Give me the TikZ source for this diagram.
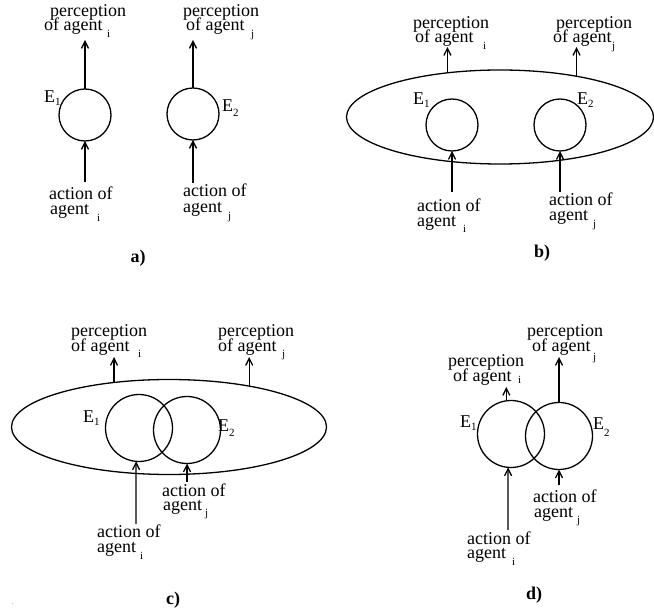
\documentclass[tikz,border=0pt]{standalone}
\usepackage{fontspec}
\setmainfont{Liberation Serif}
\usetikzlibrary{arrows.meta,shapes.geometric}
\begin{document}
\begin{tikzpicture}[x=1pt,y=-1pt,
  lbl/.style={anchor=base west,inner sep=0pt,font=\fontsize{18}{18}\selectfont},
  sub/.style={anchor=base west,inner sep=0pt,font=\fontsize{11}{11}\selectfont},
  tag/.style={anchor=base,inner sep=0pt,font=\fontsize{18}{18}\selectfont\bfseries},
  env/.style={circle,draw,line width=1.3pt,inner sep=0pt,outer sep=0pt,minimum size=#1},
  world/.style={ellipse,draw,line width=1.3pt,inner sep=0pt,outer sep=0pt},
  flow/.style={-{Straight Barb[length=7pt,width=7pt]},line width=1.3pt}]
\useasboundingbox (0,0) rectangle (654,609);

% ---------- a) two separate environments ----------
\node[env=52pt] (a1) at (85,115) {};
\node[env=52pt] (a2) at (193,114) {};
\coordinate (a1top) at (85,40);
\coordinate (a1bot) at (85,182);
\coordinate (a2top) at (193,40);
\coordinate (a2bot) at (193,183);
\draw[flow] (a1.north) -- (a1top);
\draw[flow] (a1bot) -- (a1.south);
\draw[flow] (a2.north) -- (a2top);
\draw[flow] (a2bot) -- (a2.south);
\node[lbl] (aE1) at (44,103) {E\raisebox{-3pt}{\fontsize{11}{11}\selectfont 1}};
\node[lbl] (aE2) at (222,112) {E\raisebox{-5pt}{\fontsize{11}{11}\selectfont 2}};
\node[lbl] (apI1) at (50,17) {perception};
\node[lbl] (apI2) at (44,31) {of agent};
\node[sub] (apIs) at (107,38) {i};
\node[lbl] (apJ1) at (183,17) {perception};
\node[lbl] (apJ2) at (186,31) {of agent};
\node[sub] (apJs) at (251,38) {j};
\node[lbl] (aaI1) at (49,200) {action of};
\node[lbl] (aaI2) at (50,215) {agent};
\node[sub] (aaIs) at (97,222) {i};
\node[lbl] (aaJ1) at (183,197) {action of};
\node[lbl] (aaJ2) at (183,213) {agent};
\node[sub] (aaJs) at (228,220) {j};
\node[tag] (ta) at (138,263) {a)};

% ---------- b) both environments inside one world ----------
\node[world,minimum width=307pt,minimum height=94pt] (bw) at (500,117) {};
\node[env=52pt] (b1) at (452,125) {};
\node[env=52pt] (b2) at (560,125) {};
\coordinate (bpItop) at (447,47);
\coordinate (bpJtop) at (577,47);
\coordinate (b1bot) at (452,192);
\coordinate (b2bot) at (560,192);
\draw[flow] (bw.140) -- (bw.140 |- bpItop);
\draw[flow] (bw.28) -- (bw.28 |- bpJtop);
\draw[flow] (b1bot) -- (b1.south);
\draw[flow] (b2bot) -- (b2.south);
\node[lbl] (bE1) at (413,105) {E\raisebox{-3pt}{\fontsize{11}{11}\selectfont 1}};
\node[lbl] (bE2) at (577,105) {E\raisebox{-3pt}{\fontsize{11}{11}\selectfont 2}};
\node[lbl] (bpI1) at (413,29) {perception};
\node[lbl] (bpI2) at (415,43) {of agent};
\node[sub] (bpIs) at (483,50) {i};
\node[lbl] (bpJ1) at (556,29) {perception};
\node[lbl] (bpJ2) at (553,43) {of agent};
\node[sub] (bpJs) at (612,50) {j};
\node[lbl] (baI1) at (417,212) {action of};
\node[lbl] (baI2) at (417,227) {agent};
\node[sub] (baIs) at (463,233) {i};
\node[lbl] (baJ1) at (549,206) {action of};
\node[lbl] (baJ2) at (549,221) {agent};
\node[sub] (baJs) at (593,228) {j};
\node[tag] (tb) at (542,258) {b)};

% ---------- c) overlapping environments inside one world ----------
\node[world,minimum width=315pt,minimum height=95pt] (cw) at (169,427) {};
\node[env=67pt] (c1) at (139,428) {};
\node[env=67pt] (c2) at (187,430) {};
\coordinate (cpItop) at (113,357);
\coordinate (cpJtop) at (247,357);
\coordinate (c1bot) at (136,524);
\coordinate (c2bot) at (187,482);
\draw[flow] (cw.141.7) -- (cw.141.7 |- cpItop);
\draw[flow] (cw.27.8) -- (cw.27.8 |- cpJtop);
\draw[flow] (c1bot) -- (c1.265);
\draw[flow] (c2bot) -- (c2.south);
\node[lbl] (cE1) at (83,423) {E\raisebox{-3pt}{\fontsize{11}{11}\selectfont 1}};
\node[lbl] (cE2) at (218,432) {E\raisebox{-5pt}{\fontsize{11}{11}\selectfont 2}};
\node[lbl] (cpI1) at (71,337) {perception};
\node[lbl] (cpI2) at (71,352) {of agent};
\node[sub] (cpIs) at (138,358) {i};
\node[lbl] (cpJ1) at (218,337) {perception};
\node[lbl] (cpJ2) at (218,352) {of agent};
\node[sub] (cpJs) at (282,358) {j};
\node[lbl] (caJ1) at (162,497) {action of};
\node[lbl] (caJ2) at (163,511) {agent};
\node[sub] (caJs) at (205,517) {j};
\node[lbl] (caI1) at (97,538) {action of};
\node[lbl] (caI2) at (97,553) {agent};
\node[sub] (caIs) at (140,560) {i};
\node[tag] (tc) at (173,605) {c)};
\node[anchor=base,inner sep=0pt,font=\fontsize{8}{8}\selectfont,text=gray] (cdot) at (13,605) {.};

% ---------- d) overlapping environments, no common world ----------
\node[env=67pt] (d1) at (511,434) {};
\node[env=67pt] (d2) at (559,436) {};
\coordinate (dpItop) at (506,387);
\coordinate (dpJtop) at (559,357);
\coordinate (d1bot) at (508,530);
\coordinate (d2bot) at (559,485);
\draw[flow] (d1.98) -- (d1.98 |- dpItop);
\draw[flow] (d2.north) -- (dpJtop);
\draw[flow] (d1bot) -- (d1.265);
\draw[flow] (d2bot) -- (d2.south);
\node[lbl] (dE1) at (460,428) {E\raisebox{-3pt}{\fontsize{11}{11}\selectfont 1}};
\node[lbl] (dE2) at (593,430) {E\raisebox{-7pt}{\fontsize{11}{11}\selectfont 2}};
\node[lbl] (dpI1) at (448,367) {perception};
\node[lbl] (dpI2) at (453,382) {of agent};
\node[sub] (dpIs) at (518,384) {i};
\node[lbl] (dpJ1) at (527,337) {perception};
\node[lbl] (dpJ2) at (532,352) {of agent};
\node[sub] (dpJs) at (593,361) {j};
\node[lbl] (daJ1) at (533,503) {action of};
\node[lbl] (daJ2) at (534,518) {agent};
\node[sub] (daJs) at (577,524) {j};
\node[lbl] (daI1) at (467,545) {action of};
\node[lbl] (daI2) at (467,559) {agent};
\node[sub] (daIs) at (512,566) {i};
\node[tag] (td) at (534,600) {d)};
\end{tikzpicture}
\end{document}
